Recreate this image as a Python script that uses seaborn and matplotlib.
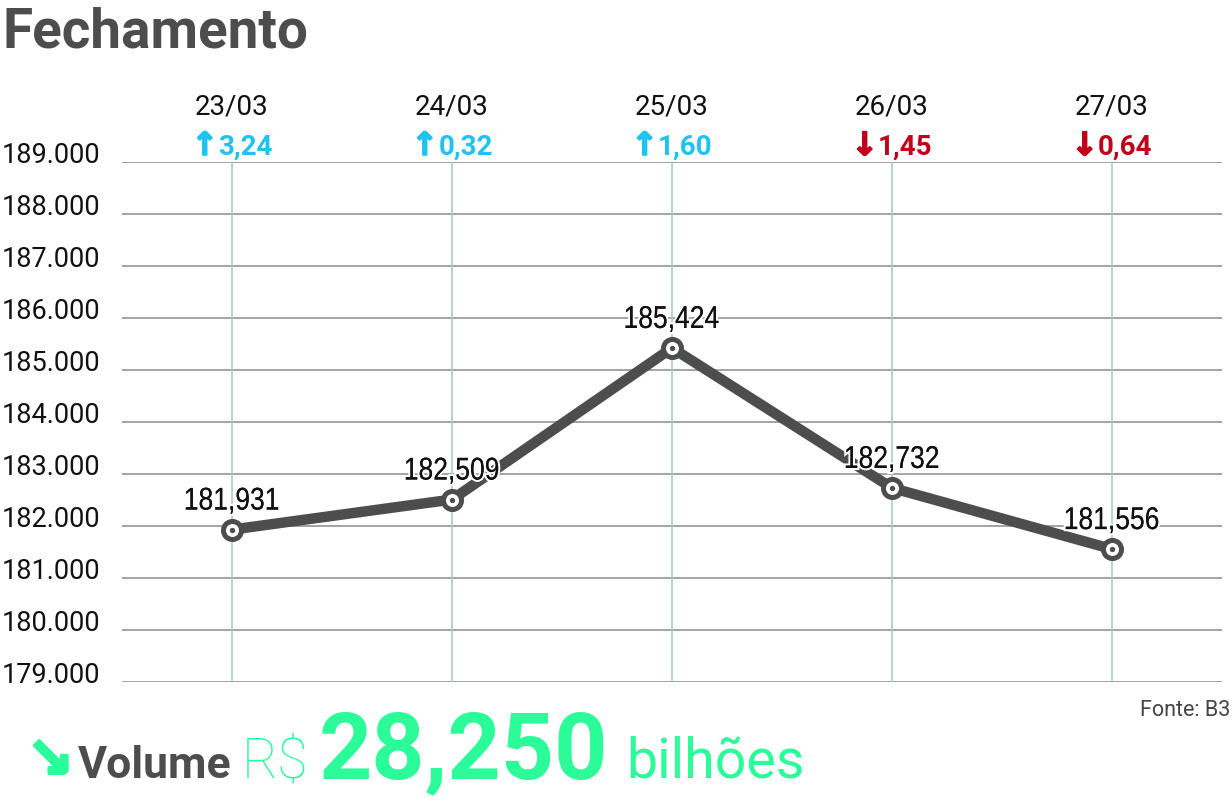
import numpy as np
import pandas as pd
import matplotlib
matplotlib.use("Agg")
import matplotlib.pyplot as plt
import matplotlib.patheffects as pe
from matplotlib.textpath import TextPath
from matplotlib.patches import PathPatch
from matplotlib.font_manager import FontProperties
from matplotlib.transforms import Affine2D, IdentityTransform
import seaborn as sns

# data
dates = ["23/03", "24/03", "25/03", "26/03", "27/03"]
closes = [181.931, 182.509, 185.424, 182.732, 181.556]
close_labels = ["181,931", "182,509", "185,424", "182,732", "181,556"]
changes = ["3,24", "0,32", "1,60", "1,45", "0,64"]
change_up = [True, True, True, False, False]
y_ticks = [179, 180, 181, 182, 183, 184, 185, 186, 187, 188, 189]
y_tick_labels = ["179.000", "180.000", "181.000", "182.000", "183.000", "184.000",
                 "185.000", "186.000", "187.000", "188.000", "189.000"]

sns.set_style("white")
plt.rcParams['font.family'] = ['Roboto', 'DejaVu Sans']

W, H = 1232, 803
fig = plt.figure(figsize=(W / 100, H / 100), dpi=100)
ax = fig.add_axes([122 / W, 1 - 683 / H, 1100 / W, 520 / H])

df = pd.DataFrame({"x": np.arange(len(dates)), "close": closes})

dark = "#4d4d4d"
up_c = "#1fc3ef"
down_c = "#c0001b"
green = "#2cfb9a"

# grid
for v in y_ticks:
    ax.axhline(v, color="#9c9c9c", lw=1.3 if v > 179 else 2, zorder=1)
for i in range(len(dates)):
    ax.axvline(i, color="#aacdc4", lw=1.2, zorder=1)

sns.lineplot(data=df, x="x", y="close", ax=ax, color=dark, lw=7.5, zorder=3,
             marker="o", markersize=13, markerfacecolor="white",
             markeredgecolor=dark, markeredgewidth=3.6)
ax.scatter(df["x"], df["close"], s=8, color=dark, zorder=5)

ax.set_xlim(-0.5, 4.5)
ax.set_ylim(179, 189)
ax.set_xticks([])
ax.set_yticks([])
ax.set_xlabel("")
ax.set_ylabel("")
for s in ax.spines.values():
    s.set_visible(False)

# y labels (baseline on gridline)
for v, lab in zip(y_ticks, y_tick_labels):
    ax.text(-0.5 - 22 / 220, v, lab, ha="right", va="baseline", fontsize=19.5,
            color="#111111", clip_on=False)

# point labels in a narrowed sans (text path squeezed horizontally)
narrow = FontProperties(family="Liberation Sans")
for i, (v, lab) in enumerate(zip(closes, close_labels)):
    tp = TextPath((0, 0), lab, size=31.5, prop=narrow)
    ext = tp.get_extents()
    px, py = ax.transData.transform((i, v))
    tr = (Affine2D().translate(-(ext.x0 + ext.x1) / 2, 0).scale(0.84, 1)
          .translate(px, py + 20))
    patch = PathPatch(tr.transform_path(tp), transform=IdentityTransform(),
                      color="#111111", lw=0, zorder=6)
    patch.set_path_effects([pe.withStroke(linewidth=3, foreground="white"), pe.Normal()])
    fig.add_artist(patch)

# header: dates and changes (arrow in DejaVu bold, number in Roboto bold)
fig.canvas.draw()
r = fig.canvas.get_renderer()
for i, (d, c, up) in enumerate(zip(dates, changes, change_up)):
    ax.text(i, 189 + 56 / 52, d, ha="center", va="center", fontsize=20,
            color="#111111", clip_on=False)
    col = up_c if up else down_c
    arrow = "\u2191" if up else "\u2193"
    px, py = ax.transData.transform((i, 189))
    a = fig.text(0, 0, arrow, fontsize=23, fontweight="bold", color=col,
                 family=["DejaVu Sans"], va="baseline", ha="left",
                 path_effects=[pe.withStroke(linewidth=1.2, foreground=col)])
    n = fig.text(0, 0, c, fontsize=20, fontweight="bold", color=col,
                 va="baseline", ha="left")
    wa = a.get_window_extent(renderer=r).width
    wn = n.get_window_extent(renderer=r).width
    x0 = px - (wa + wn) / 2
    a.set_position((x0 / W, (py + 7) / H))
    n.set_position(((x0 + wa) / W, (py + 8) / H))

fig.text(2 / W, 1 - 48 / H, "Fechamento", fontsize=39.5, fontweight="bold",
         color=dark, va="baseline", ha="left")
fig.text(1230 / W, 1 - 716 / H, "Fonte: B3", fontsize=15.5, color="#444444",
         ha="right", va="baseline")

# bottom volume line, placed piece by piece
base = 1 - 778 / H
pieces = [
    ("\u2198", dict(fontsize=40, fontweight="bold", color=green, family=["DejaVu Sans"],
                    path_effects=[pe.withStroke(linewidth=2.5, foreground=green)]), 27, 4),
    ("Volume", dict(fontsize=32, fontweight="bold", color=dark), 0, 11),
    ("R$", dict(fontsize=40, color=green, fontweight="light"), 0, 10),
    ("28,250", dict(fontsize=67, fontweight="bold", color=green), 0, 18),
    ("bilhões", dict(fontsize=40, color=green), 0, 0),
]
x = 30
for txt, kw, start, gap in pieces:
    if start:
        x = start
    t = fig.text(x / W, base, txt, ha="left", va="baseline", **kw)
    bb = t.get_window_extent(renderer=r)
    x = bb.x1 + gap

fig.savefig("out.png", dpi=100)
